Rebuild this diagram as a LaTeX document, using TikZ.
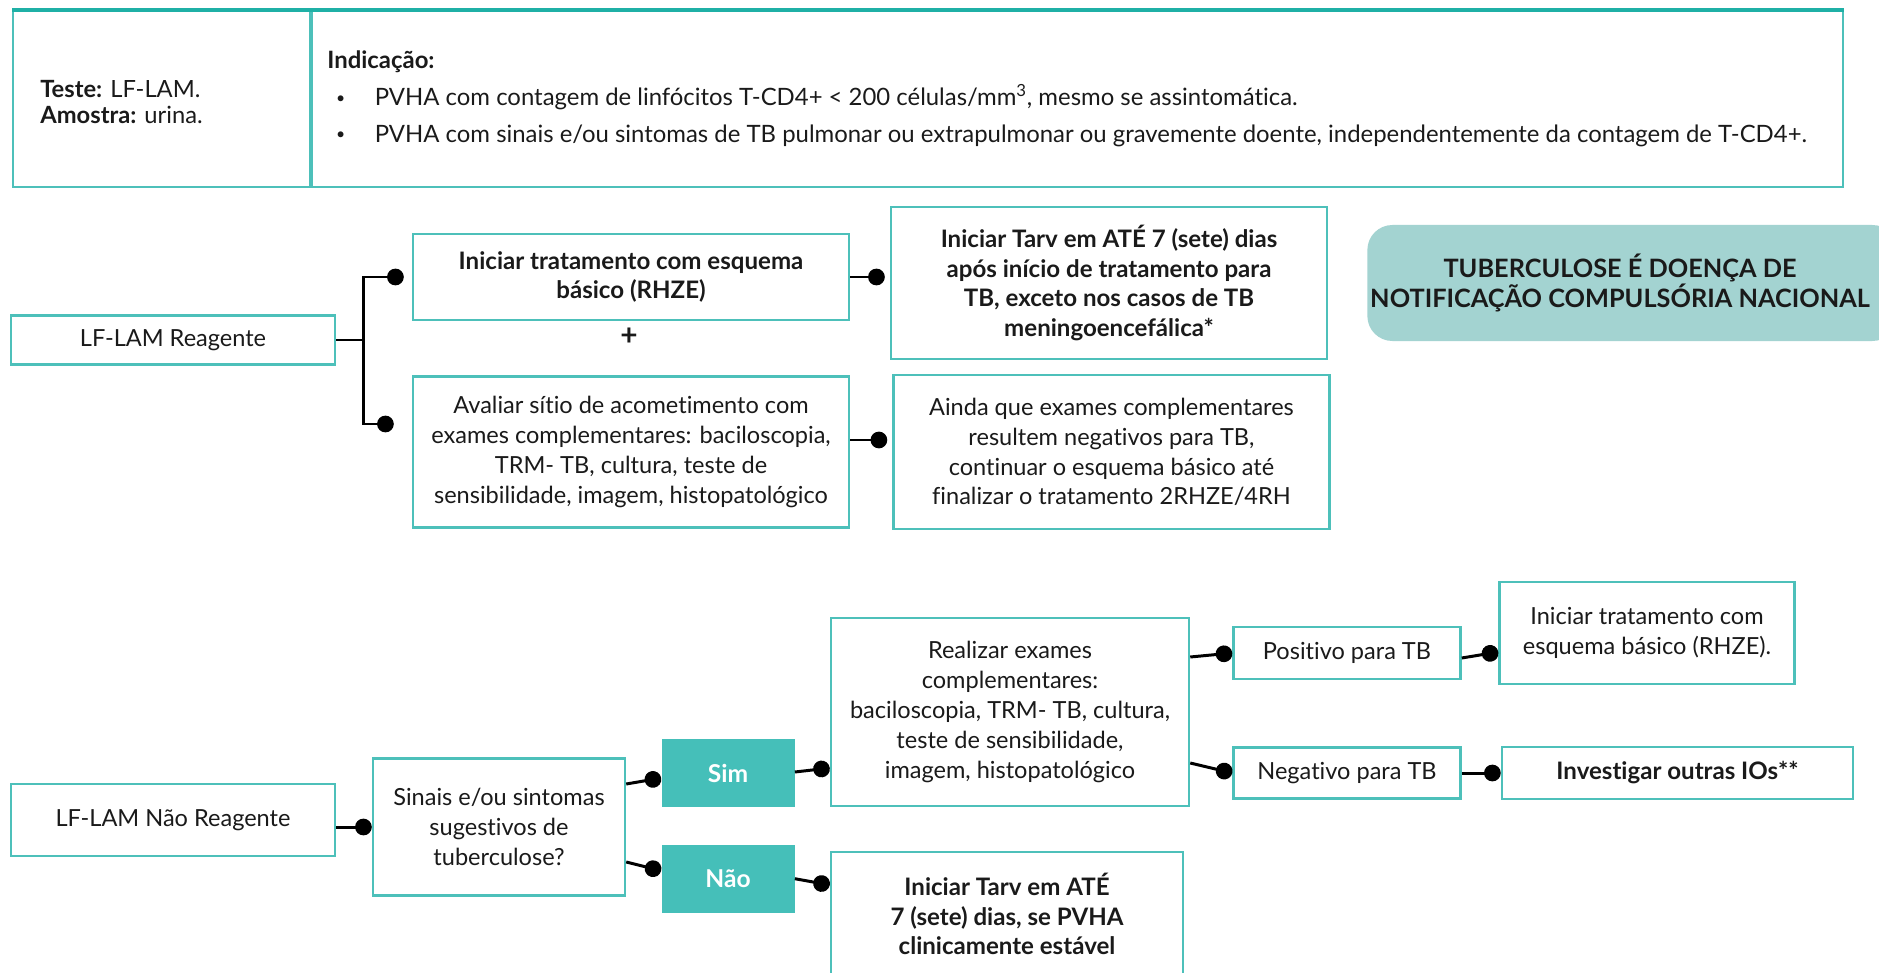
\documentclass[tikz,border=0pt]{standalone}
\usepackage{fontspec}
\setmainfont{Lato}[Ligatures=NoCommon]
\usetikzlibrary{arrows.meta,positioning,calc}
\definecolor{teal1}{HTML}{4DC0BA}
\definecolor{tealdark}{HTML}{1FB0A6}
\definecolor{tealfill}{HTML}{45BFB9}
\definecolor{notice}{HTML}{A3D3D1}
\definecolor{ink}{HTML}{1A1A1A}
\newcommand{\itemdot}{\makebox[27pt][l]{\hspace{5pt}\raisebox{1.5pt}{\fontsize{9}{9}\selectfont\textbullet}}}

\begin{document}
\begin{tikzpicture}[
 x=0.2mm, y=-0.2mm,
 node distance=7.4mm and 8.4mm,
 box/.style={draw=teal1,line width=1.4pt,fill=white,align=center,inner sep=2pt,text=ink,font=\fontsize{13.4}{17}\selectfont},
 boldbox/.style={box,font=\fontsize{13.7}{17}\selectfont\bfseries},
 choice/.style={fill=tealfill,text=white,minimum width=26.6mm,minimum height=13.6mm,font=\fontsize{14}{16}\selectfont\bfseries},
 ball/.style={-{Circle[length=9.5pt]},line width=1.7pt,draw=black},
 cell/.style={draw=teal1,line width=1pt}
]
\useasboundingbox (0,0) rectangle (1879,973);

% header table
\node[cell,minimum width=59.4mm,minimum height=35.2mm,anchor=north west] (testcell) at (12,10) {};
\node[cell,minimum width=306.2mm,minimum height=35.2mm,anchor=north west] (indcell) at (testcell.north east) {};
\draw[tealdark,line width=2pt] (testcell.north west) -- (indcell.north east);
\node[anchor=west,align=left,inner sep=0,text=ink,font=\fontsize{13.5}{15}\selectfont] (teste) at (40,102)
 {\textbf{Teste:} LF-LAM.\\\textbf{Amostra:} urina.};
\node[anchor=west,align=left,inner sep=0,text=ink,font=\fontsize{13.6}{21}\selectfont] (indic) at (327,99)
 {\textbf{Indicação:}\\
  \itemdot PVHA com contagem de linfócitos T-CD4+ < 200 células/mm\textsuperscript{3}, mesmo se assintomática.\\
  \itemdot PVHA com sinais e/ou sintomas de TB pulmonar ou extrapulmonar ou gravemente doente, independentemente da contagem de T-CD4+.};

% LF-LAM reagente
\node[box,minimum width=64.8mm,minimum height=9.8mm] (reag) at (173,340) {LF-LAM Reagente};
\node[boldbox,minimum width=87.2mm,minimum height=17.2mm] (trat) at (631,277) {Iniciar tratamento com esquema\\básico (RHZE)};
\node[font=\fontsize{17}{17}\selectfont\bfseries,text=ink] (plus) at (629,337) {+};
\node[box,minimum width=87.2mm,minimum height=30.2mm] (aval) at (631,452) {Avaliar sítio de acometimento com\\exames complementares: baciloscopia,\\TRM- TB, cultura, teste de\\sensibilidade, imagem, histopatológico};
\node[boldbox,minimum width=87.2mm,minimum height=30.4mm] (tarv) at (1109,283) {Iniciar Tarv em ATÉ 7 (sete) dias\\após início de tratamento para\\TB, exceto nos casos de TB\\meningoencefálica*};
\node[box,minimum width=87.2mm,minimum height=30.8mm,right=of aval] (ainda) {Ainda que exames complementares\\resultem negativos para TB,\\continuar o esquema básico até\\finalizar o tratamento 2RHZE/4RH};
\node[rounded corners=5mm,fill=notice,minimum width=106mm,minimum height=23.2mm,anchor=west] (notif) at (1367,283) {};
\node[align=center,text=ink,font=\fontsize{14.4}{17.5}\selectfont\bfseries] (notiftext) at (1620,283) {TUBERCULOSE É DOENÇA DE\\NOTIFICAÇÃO COMPULSÓRIA NACIONAL};

\coordinate (fork) at ($(reag.east)+(27,0)$);
\coordinate (avalin) at ($(aval.west)+(0,-28)$);
\coordinate (avalout) at ($(aval.east)+(0,-12)$);
\draw[line width=1.7pt] (reag.east) -- (fork);
\draw[ball,shorten >=1.6mm] (fork) |- (trat.west);
\draw[ball,shorten >=3.6mm] (fork) |- (avalin);
\draw[ball,shorten >=1mm] (trat.east) -- (trat.east -| tarv.west);
\draw[ball,shorten >=1mm] (avalout) -- (avalout -| ainda.west);

% LF-LAM nao reagente
\node[box,minimum width=64.8mm,minimum height=14.4mm] (nreag) at (173,820) {LF-LAM Não Reagente};
\node[box,minimum width=50.4mm,minimum height=27.4mm] (sinais) at (499,827) {Sinais e/ou sintomas\\sugestivos de\\tuberculose?};
\node[choice] (sim) at (728,773) {Sim};
\node[choice,below=of sim] (nao) {Não};
\node[box,minimum width=71.6mm,minimum height=37.6mm] (realizar) at (1010,712) {Realizar exames\\complementares:\\baciloscopia, TRM- TB, cultura,\\teste de sensibilidade,\\imagem, histopatológico};
\node[boldbox,minimum width=70.4mm,minimum height=24.8mm] (tarv2) at (1007,914) {Iniciar Tarv em ATÉ\\7 (sete) dias, se PVHA\\clinicamente estável};
\node[box,minimum width=45.4mm,minimum height=10.4mm] (pos) at (1347,653) {Positivo para TB};
\node[box,minimum width=45.4mm,minimum height=10.2mm] (neg) at (1347,773) {Negativo para TB};
\node[box,minimum width=59mm,minimum height=20.4mm] (trat2) at (1647,633) {Iniciar tratamento com\\esquema básico (RHZE).};
\node[boldbox,minimum width=70.2mm,minimum height=10.4mm,right=7.8mm of neg] (invest) {Investigar outras IOs**};

\draw[ball] (nreag.east |- sinais.west) -- (sinais.west);
\draw[ball] ($(sinais.east)+(0,-43)$) -- ($(sim.west)+(0,5)$);
\draw[ball] ($(sinais.east)+(0,35)$) -- ($(nao.west)+(0,-8)$);
\draw[ball] ($(sim.east)+(0,-1)$) -- ($(realizar.west)+(0,56)$);
\draw[ball] (nao.east) -- ($(tarv2.west)+(0,-29)$);
\draw[ball] ($(realizar.east)+(0,-55)$) -- (pos.west);
\draw[ball] ($(realizar.east)+(0,51)$) -- (neg.west);
\draw[ball] ($(pos.east)+(0,5)$) -- ($(trat2.west)+(0,19)$);
\draw[ball] (neg.east) -- (invest.west);
\end{tikzpicture}
\end{document}
